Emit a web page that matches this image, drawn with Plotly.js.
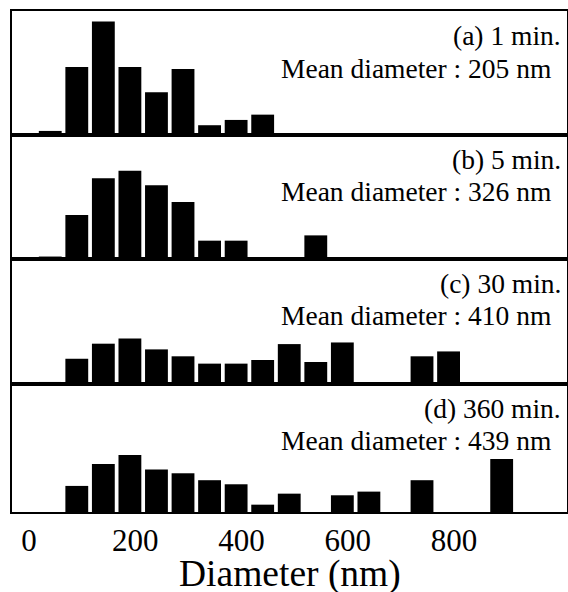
<!DOCTYPE html>
<html><head><meta charset="utf-8">
<script src="https://cdn.plot.ly/plotly-3.0.1.min.js"></script>
<style>html,body{margin:0;padding:0;background:#fff}#chart{width:568px;height:592px}</style>
</head><body><div id="chart"></div>
<script>
// Particle size distributions (frequency, %) at each reaction time
const diamA = [40, 90, 140, 190, 240, 290, 340, 390, 440];
const freqA = [1.0, 16.7, 27.9, 16.7, 10.5, 16.2, 2.4, 3.7, 5.0];
const diamB = [40, 90, 140, 190, 240, 290, 340, 390, 540];
const freqB = [0.6, 10.8, 19.8, 21.7, 18.1, 14.0, 4.5, 4.5, 5.8];
const diamC = [40, 90, 140, 190, 240, 290, 340, 390, 440, 490, 540, 590, 740, 790];
const freqC = [0.5, 6.2, 9.9, 11.2, 8.5, 6.8, 5.0, 5.0, 5.9, 9.8, 5.4, 10.2, 6.8, 8.0];
const diamD = [90, 140, 190, 240, 290, 340, 390, 440, 490, 590, 640, 740, 890];
const freqD = [6.4, 11.8, 14.0, 10.4, 9.5, 7.8, 6.8, 1.8, 4.5, 4.1, 5.0, 7.8, 13.0];
const panelLabels = ['(a) 1 min.', '(b) 5 min.', '(c) 30 min.', '(d) 360 min.'];
const meanLabels = ['Mean diameter : 205 nm', 'Mean diameter : 326 nm', 'Mean diameter : 410 nm', 'Mean diameter : 439 nm'];
const xTickVals = [0, 200, 400, 600, 800];
const xTitle = 'Diameter (nm)';

const FONT = '"Liberation Serif", "Times New Roman", serif';
const xs = [diamA, diamB, diamC, diamD];
const ys = [freqA, freqB, freqC, freqD];
// top to bottom: a, b, c, d
const axisIds = ['4', '3', '2', ''];
const domains = [[0.7525, 1], [0.505, 0.7525], [0.2555, 0.505], [0, 0.2555]];
const yRanges = [30.45, 30.45, 30.7, 31.4];
const xRange = [-32, 1013];

const traces = xs.map((x, i) => ({
  type: 'bar', x: x, y: ys[i],
  xaxis: 'x' + axisIds[i], yaxis: 'y' + axisIds[i],
  width: 43,
  marker: {color: '#000', line: {width: 0}},
  hoverinfo: 'x+y', showlegend: false
}));

const layout = {
  width: 568, height: 592,
  margin: {l: 12, r: 1, t: 11, b: 80},
  paper_bgcolor: '#fff', plot_bgcolor: '#fff',
  font: {family: FONT, color: '#000'},
  showlegend: false,
  annotations: [{
    xref: 'paper', yref: 'paper', x: 0.5, y: -0.123,
    xanchor: 'center', yanchor: 'middle', showarrow: false,
    text: xTitle, font: {family: FONT, size: 37.5, color: '#000'}
  }]
};

axisIds.forEach((id, i) => {
  const isBottom = (i === 3);
  layout['xaxis' + id] = {
    range: xRange, anchor: 'y' + id, domain: [0, 1],
    showline: true, mirror: true, linecolor: '#000', linewidth: 2,
    showgrid: false, zeroline: false, ticks: '',
    tickvals: xTickVals, showticklabels: isBottom,
    tickfont: {family: FONT, size: 31, color: '#000'}
  };
  layout['yaxis' + id] = {
    range: [0, yRanges[i]], anchor: 'x' + id, domain: domains[i],
    showline: true, mirror: true, linecolor: '#000', linewidth: 2,
    showgrid: false, zeroline: false, ticks: '', showticklabels: false
  };
  const h = (domains[i][1] - domains[i][0]) * 501;
  layout.annotations.push({
    xref: 'paper', yref: 'y' + id + ' domain', x: 0.9928, y: 1 - 25 / h,
    xanchor: 'right', yanchor: 'middle', showarrow: false,
    text: panelLabels[i], font: {family: FONT, size: 27.5, color: '#000'}
  });
  layout.annotations.push({
    xref: 'paper', yref: 'y' + id + ' domain', x: 0.9748, y: 1 - 57 / h,
    xanchor: 'right', yanchor: 'middle', showarrow: false,
    text: meanLabels[i], font: {family: FONT, size: 27.5, color: '#000'}
  });
});

Plotly.newPlot('chart', traces, layout, {displayModeBar: false, staticPlot: true});
</script>
</body></html>
